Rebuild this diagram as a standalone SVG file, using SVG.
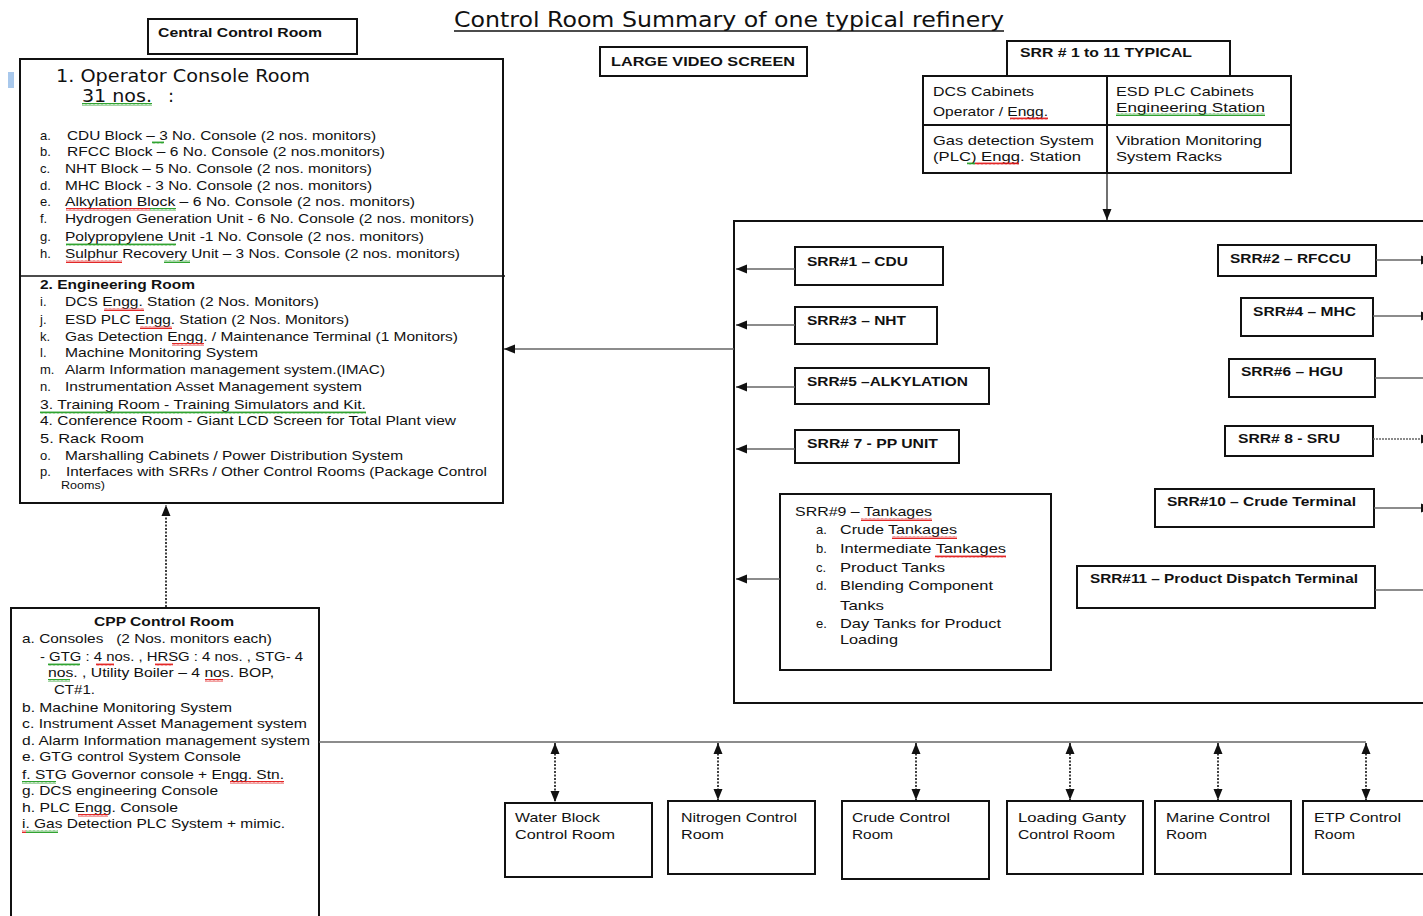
<svg xmlns="http://www.w3.org/2000/svg" width="1423" height="916" viewBox="0 0 1423 916">
<defs>
<style>
.t{font-family:"Liberation Sans",Arial,sans-serif;font-size:13px;fill:#111}
.s{font-size:12px}
.b{font-weight:bold}
.h{font-family:"DejaVu Sans","Liberation Sans",sans-serif;fill:#111}
.box{fill:#fff;stroke:#111;stroke-width:2}
.c{stroke:#666;stroke-width:1.5;fill:none}
.d{stroke:#111;stroke-width:1.6;stroke-dasharray:2 1.5;fill:none}
.sr{fill:url(#sqR)}
.sg{fill:url(#sqG)}
</style>
<pattern id="sqR" width="4" height="3" patternUnits="userSpaceOnUse"><path d="M0 2.5 L1 0.5 L2 2.5 L3 0.5 L4 2.5" stroke="#e01010" stroke-width="0.9" fill="none"/></pattern>
<pattern id="sqG" width="4" height="3" patternUnits="userSpaceOnUse"><path d="M0 2.5 L1 0.5 L2 2.5 L3 0.5 L4 2.5" stroke="#1a9a1a" stroke-width="0.9" fill="none"/></pattern>
<marker id="ah" markerUnits="userSpaceOnUse" markerWidth="11" markerHeight="10" refX="11" refY="5" orient="auto-start-reverse"><path d="M0,0.5 L11,5 L0,9.5 z" fill="#111"/></marker>
</defs>
<rect x="0" y="0" width="1423" height="916" fill="#fff"/>

<g id="title">
<text class="h" x="454" y="27" font-size="21" textLength="550" lengthAdjust="spacingAndGlyphs">Control Room Summary of one typical refinery</text>
<line x1="454" y1="31" x2="1004" y2="31" stroke="#111" stroke-width="1.5"/>
</g>

<g id="central-control-room">
<rect class="box" x="148" y="19" width="209" height="35"/>
<text class="t s b" x="158" y="37" textLength="164" lengthAdjust="spacingAndGlyphs">Central Control  Room</text>
</g>

<g id="large-video-screen">
<rect class="box" x="600" y="47" width="207" height="29"/>
<text class="t s b" x="611" y="66" textLength="184" lengthAdjust="spacingAndGlyphs">LARGE VIDEO SCREEN</text>
</g>

<g id="operator-console-room">
<rect x="8" y="72" width="6" height="16" fill="#a8c8ec"/>
<rect class="box" x="20" y="59" width="483" height="444"/>
<line x1="20" y1="276" x2="505" y2="276" stroke="#111" stroke-width="1.5"/>
<text class="h" x="56" y="82" font-size="18" textLength="254" lengthAdjust="spacingAndGlyphs">1. Operator Console Room</text>
<text class="h" x="82" y="102" font-size="18" textLength="70" lengthAdjust="spacingAndGlyphs">31 nos.</text>
<text class="h" x="168" y="102" font-size="18">:</text>
<rect class="sg" x="82" y="103" width="70" height="3"/>
<g class="t">
<text x="40" y="140">a.</text><text x="67" y="140" textLength="309" lengthAdjust="spacingAndGlyphs">CDU Block – 3 No. Console (2 nos. monitors)</text>
<text x="40" y="156">b.</text><text x="67" y="156" textLength="318" lengthAdjust="spacingAndGlyphs">RFCC Block – 6 No. Console (2 nos.monitors)</text>
<text x="40" y="173">c.</text><text x="65" y="173" textLength="307" lengthAdjust="spacingAndGlyphs">NHT Block – 5 No. Console (2 nos. monitors)</text>
<text x="40" y="190">d.</text><text x="65" y="190" textLength="307" lengthAdjust="spacingAndGlyphs">MHC Block - 3 No. Console (2 nos. monitors)</text>
<text x="40" y="206">e.</text><text x="65" y="206" textLength="350" lengthAdjust="spacingAndGlyphs">Alkylation Block – 6 No. Console (2 nos. monitors)</text>
<text x="40" y="223">f.</text><text x="65" y="223" textLength="409" lengthAdjust="spacingAndGlyphs">Hydrogen Generation Unit - 6 No. Console (2 nos. monitors)</text>
<text x="40" y="241">g.</text><text x="65" y="241" textLength="359" lengthAdjust="spacingAndGlyphs">Polypropylene Unit -1 No. Console (2 nos. monitors)</text>
<text x="40" y="258">h.</text><text x="65" y="258" textLength="395" lengthAdjust="spacingAndGlyphs">Sulphur Recovery Unit – 3 Nos. Console (2 nos. monitors)</text>
<text x="40" y="289" class="b" textLength="155" lengthAdjust="spacingAndGlyphs">2. Engineering Room</text>
<text x="40" y="306">i.</text><text x="65" y="306" textLength="254" lengthAdjust="spacingAndGlyphs">DCS Engg. Station (2 Nos. Monitors)</text>
<text x="40" y="324">j.</text><text x="65" y="324" textLength="284" lengthAdjust="spacingAndGlyphs">ESD PLC Engg. Station (2 Nos. Monitors)</text>
<text x="40" y="341">k.</text><text x="65" y="341" textLength="393" lengthAdjust="spacingAndGlyphs">Gas Detection Engg. / Maintenance Terminal (1 Monitors)</text>
<text x="40" y="357">l.</text><text x="65" y="357" textLength="193" lengthAdjust="spacingAndGlyphs">Machine Monitoring System</text>
<text x="40" y="374">m.</text><text x="65" y="374" textLength="320" lengthAdjust="spacingAndGlyphs">Alarm Information management system.(IMAC)</text>
<text x="40" y="391">n.</text><text x="65" y="391" textLength="297" lengthAdjust="spacingAndGlyphs">Instrumentation Asset Management system</text>
<text x="40" y="409" textLength="326" lengthAdjust="spacingAndGlyphs">3. Training Room - Training Simulators and Kit.</text>
<text x="40" y="425" textLength="416" lengthAdjust="spacingAndGlyphs">4. Conference Room - Giant LCD Screen for Total Plant view</text>
<text x="40" y="443" textLength="104" lengthAdjust="spacingAndGlyphs">5. Rack Room</text>
<text x="40" y="460">o.</text><text x="65" y="460" textLength="338" lengthAdjust="spacingAndGlyphs">Marshalling Cabinets / Power Distribution System</text>
<text x="40" y="476">p.</text><text x="66" y="476" textLength="421" lengthAdjust="spacingAndGlyphs">Interfaces with SRRs / Other Control Rooms (Package Control</text>
<text x="61" y="489" font-size="10" textLength="44" lengthAdjust="spacingAndGlyphs">Rooms)</text>
</g>
<rect class="sg" x="152" y="141" width="12" height="3"/>
<rect class="sr" x="66" y="208" width="84" height="3"/>
<rect class="sg" x="150" y="208" width="26" height="3"/>
<rect class="sg" x="66" y="243" width="110" height="3"/>
<rect class="sr" x="66" y="260" width="56" height="3"/>
<rect class="sg" x="164" y="260" width="26" height="3"/>
<rect class="sr" x="104" y="308" width="40" height="3"/>
<rect class="sr" x="140" y="326" width="32" height="3"/>
<rect class="sr" x="172" y="343" width="32" height="3"/>
<rect class="sg" x="40" y="411" width="326" height="3"/>
</g>

<g id="cpp-control-room">
<path class="box" d="M11,920 V608 H319 V920"/>
<g class="t">
<text x="164" y="626" class="b" text-anchor="middle" textLength="140" lengthAdjust="spacingAndGlyphs">CPP Control Room</text>
<text x="22" y="643" xml:space="preserve" textLength="250" lengthAdjust="spacingAndGlyphs">a. Consoles   (2 Nos. monitors each)</text>
<text x="40" y="661" textLength="263" lengthAdjust="spacingAndGlyphs">- GTG : 4 nos. , HRSG : 4 nos. , STG- 4</text>
<text x="48" y="677" textLength="226" lengthAdjust="spacingAndGlyphs">nos. , Utility Boiler – 4 nos. BOP,</text>
<text x="54" y="694" textLength="41" lengthAdjust="spacingAndGlyphs">CT#1.</text>
<text x="22" y="712" textLength="210" lengthAdjust="spacingAndGlyphs">b. Machine Monitoring System</text>
<text x="22" y="728" textLength="285" lengthAdjust="spacingAndGlyphs">c. Instrument Asset Management system</text>
<text x="22" y="745" textLength="288" lengthAdjust="spacingAndGlyphs">d. Alarm Information management system</text>
<text x="22" y="761" textLength="219" lengthAdjust="spacingAndGlyphs">e. GTG control System Console</text>
<text x="22" y="779" textLength="262" lengthAdjust="spacingAndGlyphs">f. STG Governor console + Engg. Stn.</text>
<text x="22" y="795" textLength="196" lengthAdjust="spacingAndGlyphs">g. DCS engineering Console</text>
<text x="22" y="812" textLength="156" lengthAdjust="spacingAndGlyphs">h. PLC Engg. Console</text>
<text x="22" y="828" textLength="263" lengthAdjust="spacingAndGlyphs">i. Gas Detection PLC System + mimic.</text>
</g>
<rect class="sg" x="48" y="663" width="32" height="3"/>
<rect class="sr" x="96" y="663" width="18" height="3"/>
<rect class="sr" x="155" y="663" width="18" height="3"/>
<rect class="sg" x="48" y="679" width="22" height="3"/>
<rect class="sr" x="205" y="679" width="18" height="3"/>
<rect class="sg" x="22" y="781" width="34" height="3"/>
<rect class="sr" x="230" y="781" width="54" height="3"/>
<rect class="sr" x="78" y="814" width="30" height="3"/>
<rect class="sr" x="22" y="830" width="4" height="3"/>
<rect class="sg" x="26" y="830" width="32" height="3"/>
</g>

<g id="srr-typical">
<rect class="box" x="1007" y="41" width="223" height="35"/>
<text class="t s b" x="1020" y="57" textLength="172" lengthAdjust="spacingAndGlyphs">SRR # 1 to 11 TYPICAL</text>
<rect class="box" x="923" y="76" width="368" height="97"/>
<line x1="1107" y1="76" x2="1107" y2="173" stroke="#111" stroke-width="2"/>
<line x1="923" y1="125" x2="1291" y2="125" stroke="#111" stroke-width="2"/>
<g class="t">
<text x="933" y="96" textLength="101" lengthAdjust="spacingAndGlyphs">DCS Cabinets</text>
<text x="933" y="116" textLength="115" lengthAdjust="spacingAndGlyphs">Operator / Engg.</text>
<text x="1116" y="96" textLength="138" lengthAdjust="spacingAndGlyphs">ESD PLC Cabinets</text>
<text x="1116" y="112" textLength="149" lengthAdjust="spacingAndGlyphs">Engineering Station</text>
<text x="933" y="145" textLength="161" lengthAdjust="spacingAndGlyphs">Gas detection System</text>
<text x="933" y="161" textLength="148" lengthAdjust="spacingAndGlyphs">(PLC) Engg. Station</text>
<text x="1116" y="145" textLength="146" lengthAdjust="spacingAndGlyphs">Vibration Monitoring</text>
<text x="1116" y="161" textLength="106" lengthAdjust="spacingAndGlyphs">System Racks</text>
</g>
<rect class="sr" x="1010" y="117" width="38" height="3"/>
<rect class="sg" x="1116" y="113" width="149" height="3"/>
<rect class="sg" x="967" y="162" width="8" height="3"/>
<rect class="sr" x="975" y="162" width="44" height="3"/>
</g>

<g id="srr-container">
<path class="box" fill="none" d="M1432,221 H734 V703 H1432"/>
</g>

<g id="srr1"><rect class="box" x="795" y="247" width="148" height="38"/><text class="t s b" x="807" y="266" textLength="101" lengthAdjust="spacingAndGlyphs">SRR#1 – CDU</text></g>
<g id="srr3"><rect class="box" x="795" y="307" width="142" height="37"/><text class="t s b" x="807" y="325" textLength="99" lengthAdjust="spacingAndGlyphs">SRR#3 – NHT</text></g>
<g id="srr5"><rect class="box" x="795" y="368" width="194" height="36"/><text class="t s b" x="807" y="386" textLength="161" lengthAdjust="spacingAndGlyphs">SRR#5 –ALKYLATION</text></g>
<g id="srr7"><rect class="box" x="795" y="430" width="164" height="33"/><text class="t s b" x="807" y="448" textLength="131" lengthAdjust="spacingAndGlyphs">SRR# 7 - PP UNIT</text></g>
<g id="srr9">
<rect class="box" x="780" y="494" width="271" height="176"/>
<g class="t">
<text x="795" y="516" textLength="137" lengthAdjust="spacingAndGlyphs">SRR#9 – Tankages</text>
<text x="816" y="534">a.</text><text x="840" y="534" textLength="117" lengthAdjust="spacingAndGlyphs">Crude Tankages</text>
<text x="816" y="553">b.</text><text x="840" y="553" textLength="166" lengthAdjust="spacingAndGlyphs">Intermediate Tankages</text>
<text x="816" y="572">c.</text><text x="840" y="572" textLength="105" lengthAdjust="spacingAndGlyphs">Product Tanks</text>
<text x="816" y="590">d.</text><text x="840" y="590" textLength="153" lengthAdjust="spacingAndGlyphs">Blending Component</text>
<text x="840" y="610" textLength="44" lengthAdjust="spacingAndGlyphs">Tanks</text>
<text x="816" y="628">e.</text><text x="840" y="628" textLength="161" lengthAdjust="spacingAndGlyphs">Day Tanks for Product</text>
<text x="840" y="644" textLength="58" lengthAdjust="spacingAndGlyphs">Loading</text>
</g>
<rect class="sr" x="861" y="518" width="71" height="3"/>
<rect class="sr" x="892" y="536" width="65" height="3"/>
<rect class="sr" x="935" y="555" width="71" height="3"/>
</g>

<g id="srr2"><rect class="box" x="1218" y="245" width="158" height="31"/><text class="t s b" x="1230" y="263" textLength="121" lengthAdjust="spacingAndGlyphs">SRR#2 – RFCCU</text></g>
<g id="srr4"><rect class="box" x="1241" y="298" width="132" height="38"/><text class="t s b" x="1253" y="316" textLength="103" lengthAdjust="spacingAndGlyphs">SRR#4 – MHC</text></g>
<g id="srr6"><rect class="box" x="1229" y="359" width="146" height="38"/><text class="t s b" x="1241" y="376" textLength="102" lengthAdjust="spacingAndGlyphs">SRR#6 – HGU</text></g>
<g id="srr8"><rect class="box" x="1225" y="426" width="148" height="30"/><text class="t s b" x="1238" y="443" textLength="102" lengthAdjust="spacingAndGlyphs">SRR# 8 - SRU</text></g>
<g id="srr10"><rect class="box" x="1155" y="489" width="219" height="38"/><text class="t s b" x="1167" y="506" textLength="189" lengthAdjust="spacingAndGlyphs">SRR#10 – Crude  Terminal</text></g>
<g id="srr11"><rect class="box" x="1077" y="566" width="298" height="42"/><text class="t s b" x="1090" y="583" textLength="268" lengthAdjust="spacingAndGlyphs">SRR#11 – Product Dispatch Terminal</text></g>

<g id="water-block"><rect class="box" x="505" y="803" width="147" height="74"/><text class="t" x="515" y="822" textLength="85" lengthAdjust="spacingAndGlyphs">Water Block</text><text class="t" x="515" y="839" textLength="100" lengthAdjust="spacingAndGlyphs">Control Room</text></g>
<g id="nitrogen"><rect class="box" x="668" y="801" width="147" height="73"/><text class="t" x="681" y="822" textLength="116" lengthAdjust="spacingAndGlyphs">Nitrogen Control</text><text class="t" x="681" y="839" textLength="43" lengthAdjust="spacingAndGlyphs">Room</text></g>
<g id="crude"><rect class="box" x="842" y="801" width="147" height="78"/><text class="t" x="852" y="822" textLength="98" lengthAdjust="spacingAndGlyphs">Crude Control</text><text class="t" x="852" y="839" textLength="41" lengthAdjust="spacingAndGlyphs">Room</text></g>
<g id="loading-ganty"><rect class="box" x="1007" y="801" width="136" height="73"/><text class="t" x="1018" y="822" textLength="108" lengthAdjust="spacingAndGlyphs">Loading Ganty</text><text class="t" x="1018" y="839" textLength="97" lengthAdjust="spacingAndGlyphs">Control Room</text></g>
<g id="marine"><rect class="box" x="1155" y="801" width="136" height="73"/><text class="t" x="1166" y="822" textLength="104" lengthAdjust="spacingAndGlyphs">Marine Control</text><text class="t" x="1166" y="839" textLength="41" lengthAdjust="spacingAndGlyphs">Room</text></g>
<g id="etp"><path class="box" d="M1432,801 H1303 V874 H1432"/><text class="t" x="1314" y="822" textLength="87" lengthAdjust="spacingAndGlyphs">ETP Control</text><text class="t" x="1314" y="839" textLength="41" lengthAdjust="spacingAndGlyphs">Room</text></g>

<g id="connectors">
<line class="d" x1="166" y1="607" x2="166" y2="505" marker-end="url(#ah)"/>
<line class="c" x1="734" y1="349" x2="504" y2="349" marker-end="url(#ah)"/>
<line x1="1107" y1="173" x2="1107" y2="220" stroke="#111" stroke-width="1.2" marker-end="url(#ah)"/>
<line class="c" x1="795" y1="269" x2="736" y2="269" marker-end="url(#ah)"/>
<line class="c" x1="795" y1="325" x2="736" y2="325" marker-end="url(#ah)"/>
<line class="c" x1="795" y1="387" x2="736" y2="387" marker-end="url(#ah)"/>
<line class="c" x1="795" y1="449" x2="736" y2="449" marker-end="url(#ah)"/>
<line class="c" x1="780" y1="579" x2="736" y2="579" marker-end="url(#ah)"/>
<line class="c" x1="1376" y1="260" x2="1432" y2="260" marker-end="url(#ah)"/>
<line class="c" x1="1373" y1="316" x2="1432" y2="316" marker-end="url(#ah)"/>
<line class="c" x1="1375" y1="378" x2="1430" y2="378"/>
<line class="c" x1="1373" y1="439" x2="1432" y2="439" stroke-dasharray="2 1" marker-end="url(#ah)"/>
<line class="c" x1="1374" y1="508" x2="1432" y2="508" marker-end="url(#ah)"/>
<line class="c" x1="1375" y1="590" x2="1430" y2="590"/>
<line class="c" x1="319" y1="742" x2="1366" y2="742"/>
<line class="d" x1="555" y1="743" x2="555" y2="802" marker-start="url(#ah)" marker-end="url(#ah)"/>
<line class="d" x1="718" y1="743" x2="718" y2="800" marker-start="url(#ah)" marker-end="url(#ah)"/>
<line class="d" x1="916" y1="743" x2="916" y2="800" marker-start="url(#ah)" marker-end="url(#ah)"/>
<line class="d" x1="1070" y1="743" x2="1070" y2="800" marker-start="url(#ah)" marker-end="url(#ah)"/>
<line class="d" x1="1218" y1="743" x2="1218" y2="800" marker-start="url(#ah)" marker-end="url(#ah)"/>
<line class="d" x1="1366" y1="743" x2="1366" y2="800" marker-start="url(#ah)" marker-end="url(#ah)"/>
</g>
</svg>
